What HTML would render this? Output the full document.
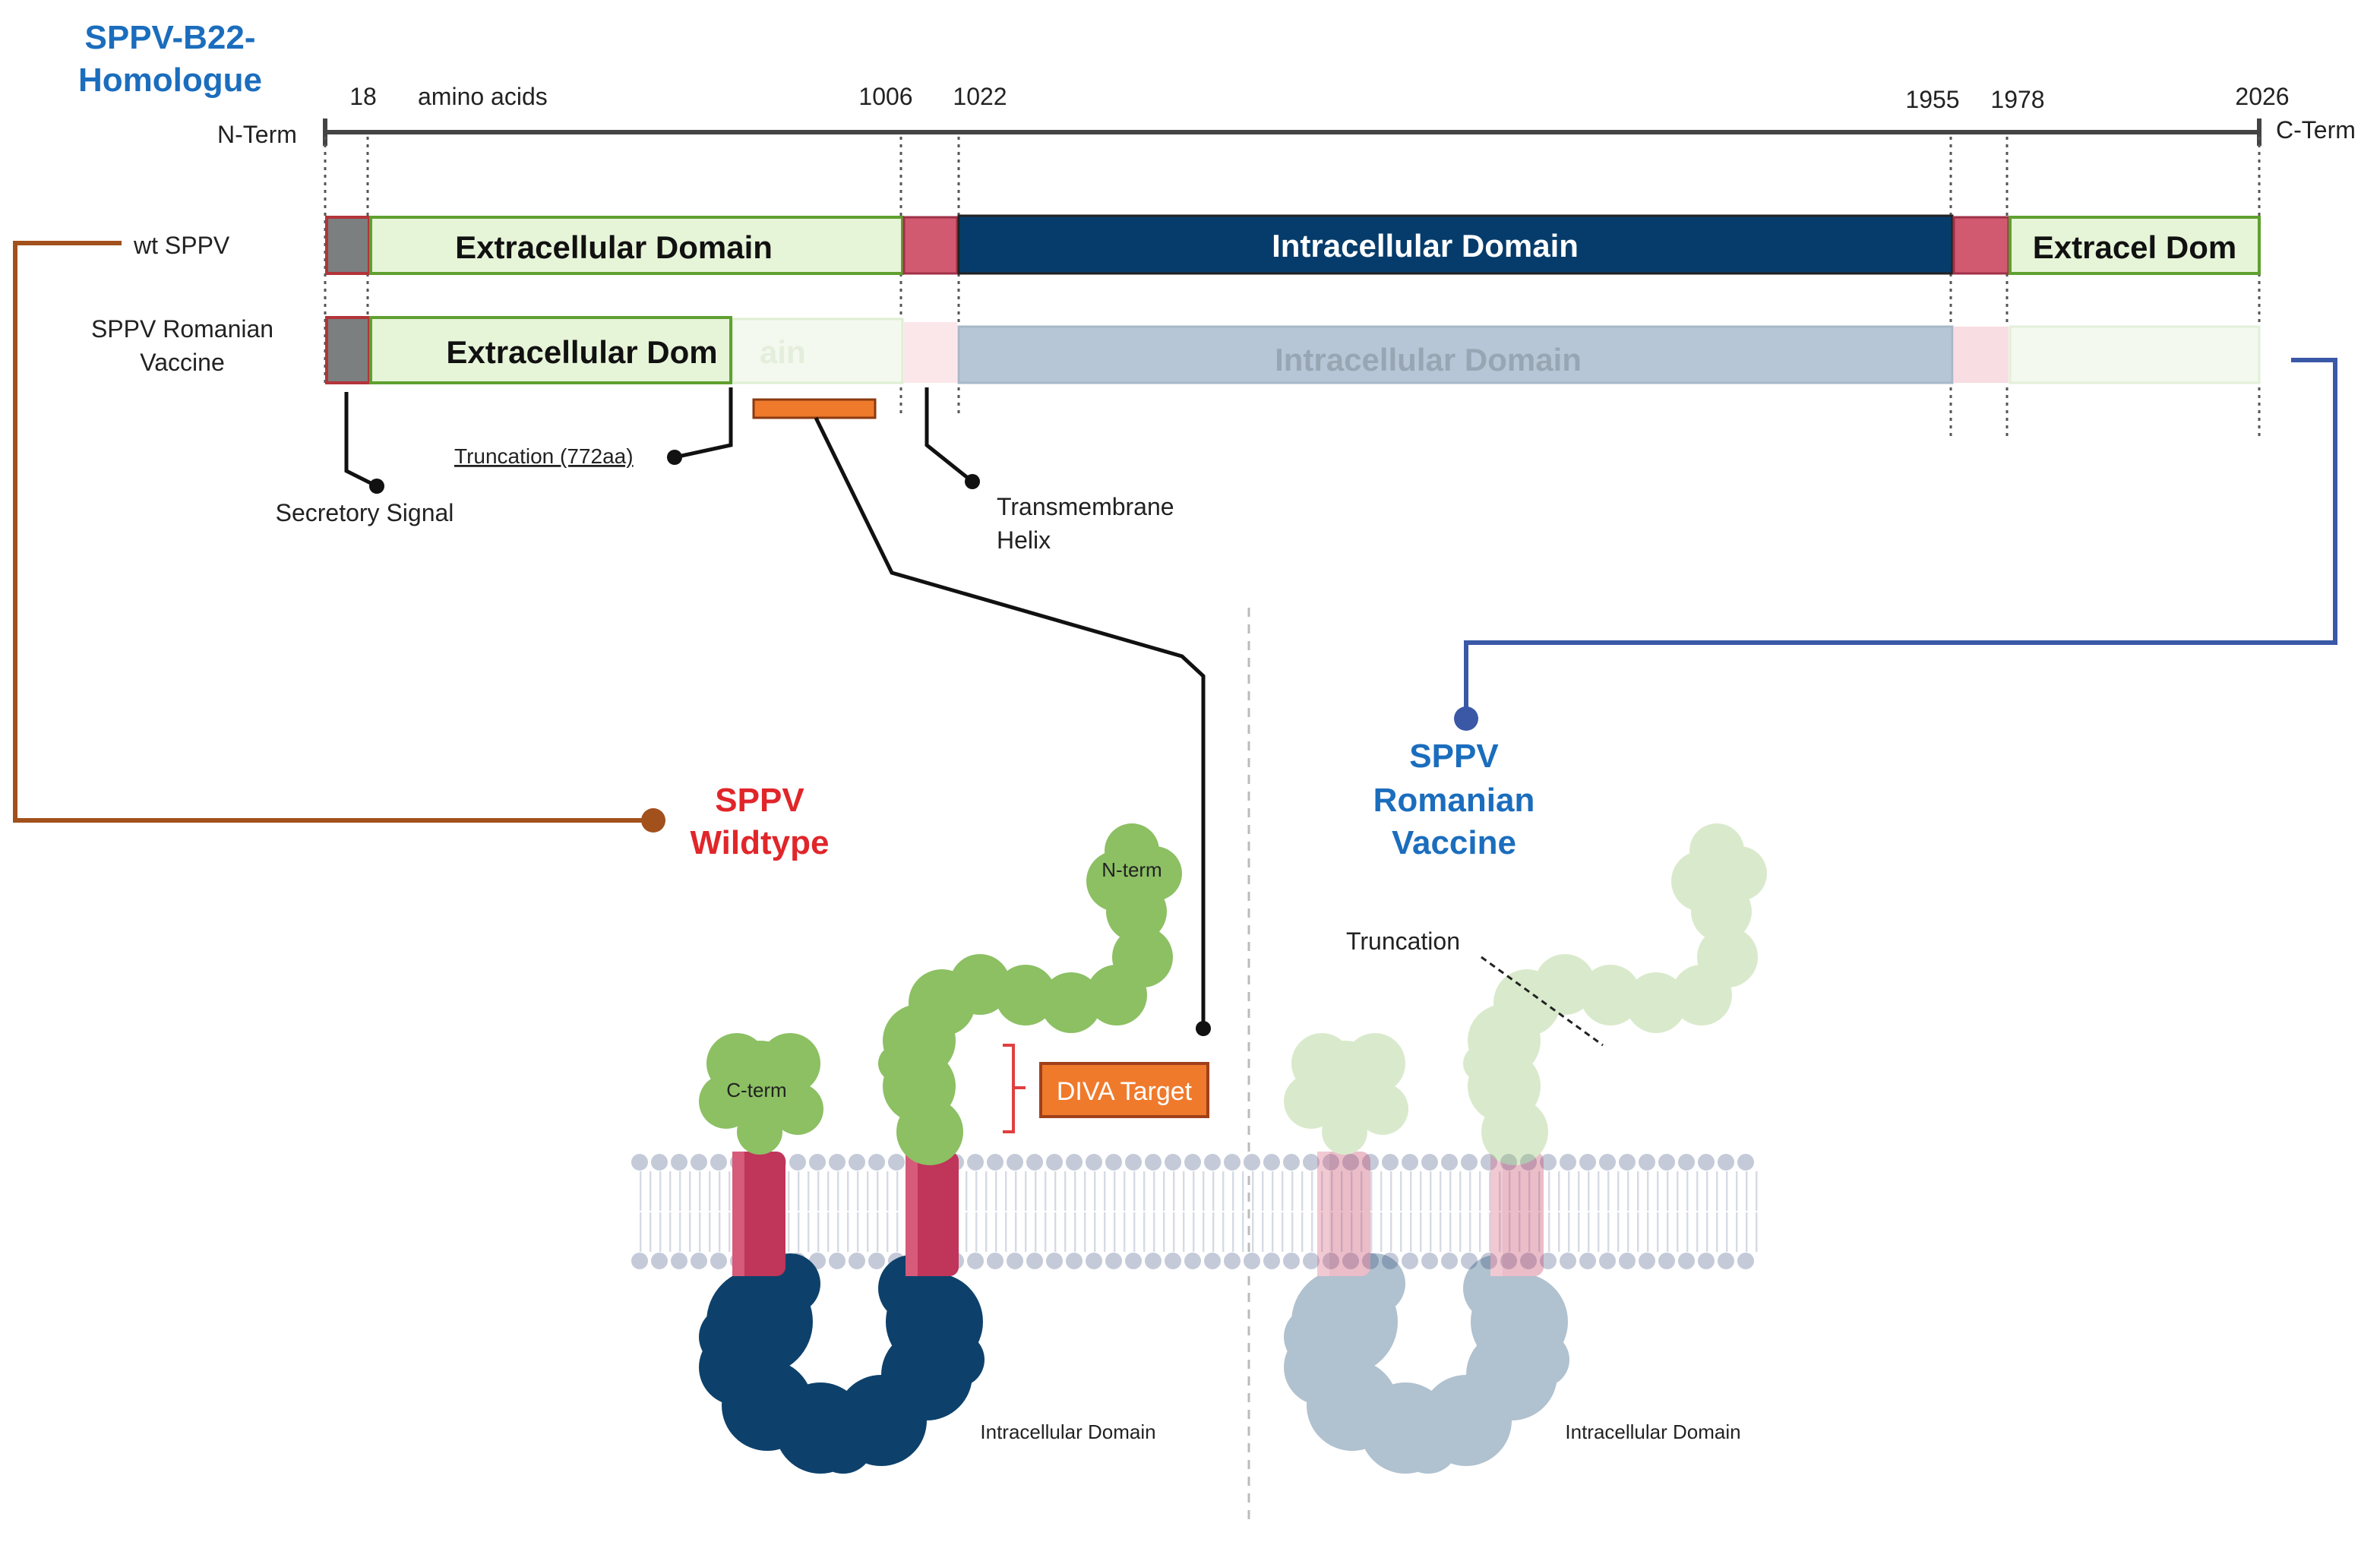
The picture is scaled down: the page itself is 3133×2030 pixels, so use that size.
<!DOCTYPE html>
<html><head><meta charset="utf-8"><style>
html,body{margin:0;padding:0;background:#fff;}
svg{display:block;}
text{font-family:"Liberation Sans",sans-serif;}
</style></head><body>
<svg width="3133" height="2030" viewBox="0 0 1566.5 1015" xmlns="http://www.w3.org/2000/svg">
<defs>
<g id="prot">
 <g fill="#0d416b">
  <circle cx="500" cy="870" r="35"/><circle cx="485" cy="900" r="25"/><circle cx="505" cy="925" r="30"/>
  <circle cx="540" cy="940" r="30"/><circle cx="580" cy="935" r="30"/><circle cx="610" cy="905" r="30"/>
  <circle cx="615" cy="870" r="32"/><circle cx="520" cy="845" r="20"/><circle cx="600" cy="848" r="22"/>
  <circle cx="555" cy="950" r="20"/><circle cx="480" cy="880" r="20"/><circle cx="630" cy="895" r="18"/>
 </g>
 <rect x="482" y="758" width="35" height="82" rx="6" fill="#c0355a"/>
 <rect x="596" y="758" width="35" height="82" rx="6" fill="#c0355a"/>
 <rect x="482" y="758" width="8" height="82" fill="#d65a7a"/>
 <rect x="596" y="758" width="8" height="82" fill="#d65a7a"/>
 <g fill="#8cc063">
  <circle cx="500" cy="715" r="30"/><circle cx="485" cy="700" r="20"/><circle cx="520" cy="700" r="20"/>
  <circle cx="478" cy="725" r="18"/><circle cx="525" cy="730" r="17"/><circle cx="500" cy="745" r="15"/>
 </g>
 <g fill="#8cc063">
  <circle cx="612" cy="745" r="22"/><circle cx="605" cy="715" r="24"/><circle cx="605" cy="685" r="24"/>
  <circle cx="620" cy="660" r="22"/><circle cx="645" cy="648" r="20"/><circle cx="675" cy="655" r="20"/>
  <circle cx="705" cy="660" r="20"/><circle cx="735" cy="655" r="20"/><circle cx="752" cy="630" r="20"/>
  <circle cx="748" cy="600" r="20"/><circle cx="735" cy="580" r="20"/><circle cx="760" cy="575" r="18"/>
  <circle cx="745" cy="560" r="18"/><circle cx="590" cy="700" r="12"/>
 </g>
</g>
</defs>

<text x="112" y="32" font-size="22" font-weight="bold" fill="#1b6dbd" text-anchor="middle">SPPV-B22-</text>
<text x="112" y="60" font-size="22" font-weight="bold" fill="#1b6dbd" text-anchor="middle">Homologue</text>

<line x1="214" y1="87" x2="1487" y2="87" stroke="#444" stroke-width="3"/>
<line x1="214" y1="78" x2="214" y2="96" stroke="#444" stroke-width="3"/>
<line x1="1487" y1="78" x2="1487" y2="96" stroke="#444" stroke-width="3"/>
<g font-size="16" fill="#222">
<text x="143" y="94">N-Term</text>
<text x="1498" y="91">C-Term</text>
<text x="239" y="69" text-anchor="middle">18</text>
<text x="275" y="69">amino acids</text>
<text x="583" y="69" text-anchor="middle">1006</text>
<text x="645" y="69" text-anchor="middle">1022</text>
<text x="1272" y="71" text-anchor="middle">1955</text>
<text x="1328" y="71" text-anchor="middle">1978</text>
<text x="1489" y="69" text-anchor="middle">2026</text>
</g>
<g stroke="#555" stroke-width="1.5" stroke-dasharray="2,3">
<line x1="214" y1="90" x2="214" y2="255"/><line x1="242" y1="90" x2="242" y2="255"/>
<line x1="593" y1="90" x2="593" y2="275"/><line x1="631" y1="90" x2="631" y2="275"/>
<line x1="1284" y1="90" x2="1284" y2="287"/><line x1="1321" y1="90" x2="1321" y2="287"/>
<line x1="1487" y1="90" x2="1487" y2="290"/>
</g>

<rect x="215" y="143" width="28" height="37" fill="#7b7f80" stroke="#b2343a" stroke-width="2"/>
<rect x="244" y="143" width="350" height="37" fill="#e6f4d8" stroke="#5fa030" stroke-width="2"/>
<text x="404" y="170" font-size="21" font-weight="bold" text-anchor="middle" fill="#111">Extracellular Domain</text>
<rect x="595" y="143" width="35" height="37" fill="#d15a70" stroke="#a03048" stroke-width="1.5"/>
<rect x="631" y="142" width="654" height="38" fill="#063c6b" stroke="#222" stroke-width="1.5"/>
<text x="938" y="169" font-size="21" font-weight="bold" text-anchor="middle" fill="#fff">Intracellular Domain</text>
<rect x="1286" y="143" width="36" height="37" fill="#d15a70" stroke="#a03048" stroke-width="1.5"/>
<rect x="1323" y="143" width="164" height="37" fill="#e6f4d8" stroke="#5fa030" stroke-width="2"/>
<text x="1405" y="170" font-size="21" font-weight="bold" text-anchor="middle" fill="#111">Extracel Dom</text>
<text x="88" y="167" font-size="16" fill="#222">wt SPPV</text>

<rect x="482" y="210" width="112" height="42" fill="#f3f9ee" stroke="#dfeed2" stroke-width="1.5"/>
<text x="500" y="239" font-size="21" font-weight="bold" fill="#e4eedc">ain</text>
<rect x="595" y="212" width="35" height="40" fill="#fbe7ea"/>
<rect x="631" y="215" width="654" height="37" fill="#b7c6d6" stroke="#a9b8c8" stroke-width="1.5"/>
<text x="940" y="244" font-size="21" font-weight="bold" text-anchor="middle" fill="#98a6b4">Intracellular Domain</text>
<rect x="1286" y="215" width="36" height="37" fill="#f8dde2"/>
<rect x="1323" y="215" width="164" height="37" fill="#f3f9ee" stroke="#e3efd8" stroke-width="1.5"/>
<rect x="215" y="209" width="28" height="43" fill="#7b7f80" stroke="#b2343a" stroke-width="2"/>
<rect x="244" y="209" width="237" height="43" fill="#e6f4d8" stroke="#5fa030" stroke-width="2"/>
<text x="383" y="239" font-size="21" font-weight="bold" text-anchor="middle" fill="#111">Extracellular Dom</text>
<text x="120" y="222" font-size="16" fill="#222" text-anchor="middle">SPPV Romanian</text>
<text x="120" y="244" font-size="16" fill="#222" text-anchor="middle">Vaccine</text>

<rect x="496" y="263" width="80" height="12" fill="#ef7a2c" stroke="#8a3a10" stroke-width="1.5"/>

<g stroke="#111" stroke-width="2.5" fill="none">
<polyline points="228,258 228,310 248,320"/>
<polyline points="481,255 481,293 444,301"/>
<polyline points="610,255 610,293 640,317"/>
<polyline points="537,275 587,377 778,432 792,445 792,677"/>
</g>
<g fill="#111">
<circle cx="248" cy="320" r="5"/><circle cx="444" cy="301" r="5"/><circle cx="640" cy="317" r="5"/><circle cx="792" cy="677" r="5"/>
</g>
<text x="240" y="343" font-size="16" fill="#222" text-anchor="middle">Secretory Signal</text>
<text x="299" y="305" font-size="14" fill="#222" text-decoration="underline">Truncation (772aa)</text>
<text x="656" y="339" font-size="16" fill="#222">Transmembrane</text>
<text x="656" y="361" font-size="16" fill="#222">Helix</text>

<polyline points="80,160 10,160 10,540 430,540" stroke="#a2501c" stroke-width="3" fill="none"/>
<circle cx="430" cy="540" r="8" fill="#a2501c"/>
<text x="500" y="534" font-size="22" font-weight="bold" fill="#e0262a" text-anchor="middle">SPPV</text>
<text x="500" y="562" font-size="22" font-weight="bold" fill="#e0262a" text-anchor="middle">Wildtype</text>

<polyline points="1508,237 1537,237 1537,423 965,423 965,473" stroke="#3a58a6" stroke-width="3" fill="none"/>
<circle cx="965" cy="473" r="8" fill="#3a58a6"/>
<text x="957" y="505" font-size="22" font-weight="bold" fill="#1b6dbd" text-anchor="middle">SPPV</text>
<text x="957" y="534" font-size="22" font-weight="bold" fill="#1b6dbd" text-anchor="middle">Romanian</text>
<text x="957" y="562" font-size="22" font-weight="bold" fill="#1b6dbd" text-anchor="middle">Vaccine</text>

<line x1="822" y1="400" x2="822" y2="1005" stroke="#bbb" stroke-width="1.5" stroke-dasharray="6,5"/>

<!-- membrane -->
<line x1="421" y1="784" x2="1160" y2="784" stroke="#d6dae4" stroke-width="26" stroke-dasharray="1.2,5.3"/>
<line x1="421" y1="811" x2="1160" y2="811" stroke="#d6dae4" stroke-width="26" stroke-dasharray="1.2,5.3"/>
<line x1="421" y1="765" x2="1160" y2="765" stroke="#c5cad9" stroke-width="11" stroke-linecap="round" stroke-dasharray="0,13"/>
<line x1="421" y1="830" x2="1160" y2="830" stroke="#c5cad9" stroke-width="11" stroke-linecap="round" stroke-dasharray="0,13"/>

<use href="#prot"/>
<g opacity="0.32"><use href="#prot" transform="translate(385,0)"/></g>

<text x="498" y="722" font-size="13" fill="#222" text-anchor="middle">C-term</text>
<text x="745" y="577" font-size="13" fill="#222" text-anchor="middle">N-term</text>

<polyline points="660,688 667,688 667,745 660,745" stroke="#e04040" stroke-width="2" fill="none"/>
<line x1="667" y1="716" x2="675" y2="716" stroke="#e04040" stroke-width="2"/>
<rect x="685" y="700" width="110" height="35" fill="#ef7a2c" stroke="#a0401a" stroke-width="2"/>
<text x="740" y="724" font-size="17" fill="#fff" text-anchor="middle">DIVA Target</text>

<text x="886" y="625" font-size="16" fill="#222">Truncation</text>
<line x1="975" y1="630" x2="1055" y2="688" stroke="#222" stroke-width="1.5" stroke-dasharray="4,3"/>

<text x="703" y="947" font-size="13" fill="#222" text-anchor="middle">Intracellular Domain</text>
<text x="1088" y="947" font-size="13" fill="#222" text-anchor="middle">Intracellular Domain</text>
</svg>
</body></html>
